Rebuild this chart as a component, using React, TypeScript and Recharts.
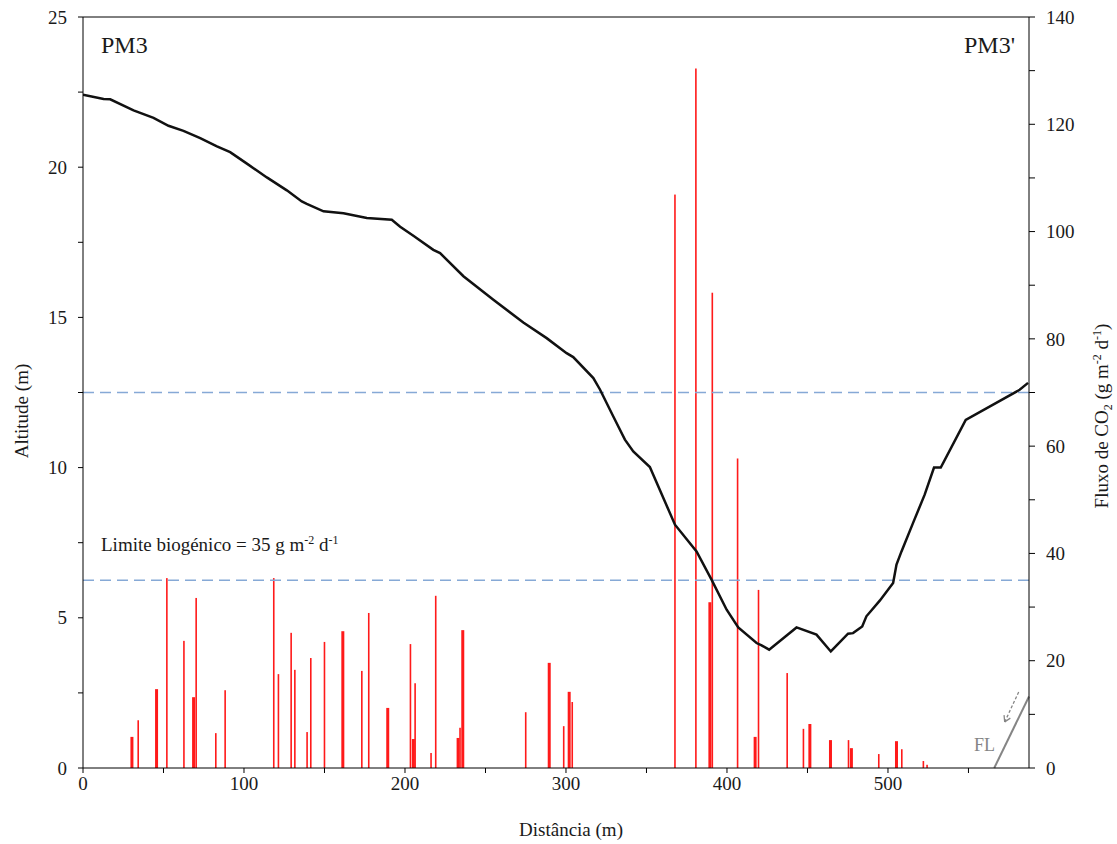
import { ComposedChart, Line, Bar, XAxis, YAxis, ReferenceLine } from "recharts";

// altitude profile PM3 -> PM3'
const altDist = [
  0, 12.8, 16.9, 31.4, 43.8, 53.1, 62.4, 72.8, 83.2, 91.4, 101.8, 114.2, 126.6, 135.9, 139, 149.4,
  161.8, 176.3, 191.8, 197, 205.2, 217.6, 221.8, 236.3, 254.9, 273.5, 288, 300.4, 304.5, 317, 321.1,
  329.4, 336.6, 341.8, 352.1, 367.7, 381.1, 390.4, 399.8, 407, 418.4, 421.5, 426.2, 443.2, 455.6,
  464.5, 475.2, 478.3, 484, 486.6, 494.9, 503.2, 505.3, 508.4, 515.6, 522.8, 528.6, 532.8, 548.3,
  581.8, 587,
];
const altVal = [
  22.41, 22.27, 22.26, 21.89, 21.64, 21.38, 21.21, 20.97, 20.69, 20.5, 20.12, 19.66, 19.23, 18.86,
  18.78, 18.53, 18.47, 18.31, 18.25, 18.02, 17.72, 17.25, 17.14, 16.37, 15.59, 14.83, 14.31, 13.81,
  13.68, 12.98, 12.6, 11.7, 10.93, 10.54, 10.02, 8.1, 7.21, 6.27, 5.27, 4.68, 4.16, 4.08, 3.94, 4.68,
  4.44, 3.88, 4.47, 4.49, 4.71, 5.05, 5.57, 6.16, 6.77, 7.21, 8.16, 9.1, 10.0, 10.0, 11.59, 12.59,
  12.82,
];

// CO2 flux measurements
const fluxDist = [
  30.4, 34.3, 45.7, 52.1, 62.7, 68.7, 70.3, 82.5, 88.3, 118.5, 121.4, 129.3, 131.6, 139.2, 141.5,
  150, 161.4, 173.2, 177.5, 189.3, 203.4, 205.2, 206.3, 216.2, 219.1, 233, 234.2, 235.9, 275, 289.6,
  298.6, 302, 303.9, 367.7, 380.7, 389.4, 390.9, 406.6, 417.5, 419.6, 437.4, 447.5, 451.5, 464.3,
  475.5, 477.3, 494.3, 505.3, 508.6, 522, 524.3,
];
const fluxVal = [
  5.8, 8.9, 14.7, 35.4, 23.7, 13.2, 31.7, 6.5, 14.5, 35.4, 17.5, 25.2, 18.3, 6.7, 20.5, 23.5, 25.5,
  18.1, 28.9, 11.2, 23.1, 5.4, 15.8, 2.8, 32.1, 5.6, 7.5, 25.7, 10.4, 19.6, 7.8, 14.2, 12.3, 106.9,
  130.4, 30.9, 88.6, 57.7, 5.8, 33.2, 17.7, 7.3, 8.2, 5.2, 5.2, 3.7, 2.6, 5.0, 3.5, 1.3, 0.6,
];
const fluxWide = [
  1, 0, 1, 0, 0, 1, 0, 0, 0, 0, 0, 0, 0, 0, 0, 0, 1, 0, 0, 1, 0, 1, 0, 0, 0, 1, 0, 1, 0, 1, 0, 1, 0,
  0, 0, 1, 0, 0, 1, 0, 0, 0, 1, 1, 0, 1, 0, 1, 0, 0, 0,
];

const xTicks = [0, 50, 100, 150, 200, 250, 300, 350, 400, 450, 500, 550];
const altTicks = [0, 2.5, 5, 7.5, 10, 12.5, 15, 17.5, 20, 22.5, 25];
const fluxTicks = [0, 10, 20, 30, 40, 50, 60, 70, 80, 90, 100, 110, 120, 130, 140];
const limitTop = 70;
const limitBio = 35;

type Row = { x: number; alt?: number; flux?: number; wide?: number };
const rows: Row[] = [
  ...altDist.map((x, i) => ({ x, alt: altVal[i] })),
  ...fluxDist.map((x, i) => ({ x, flux: fluxVal[i], wide: fluxWide[i] })),
].sort((a, b) => a.x - b.x);

const FONT = "'Liberation Serif', 'Times New Roman', serif";
const textStyle = { fontFamily: FONT, fontSize: 19, fill: "#1a1a1a" };
const GREY = "#858585";
const DASH = "#86a9d6";

// tick labels only on every other tick (minor ticks stay unlabeled)
function makeTick(step: number, dy: string) {
  return (p: any) => {
    const v = p.payload?.value;
    if (v == null || v % step !== 0) return <g />;
    return (
      <text x={p.x} y={p.y} dy={dy} textAnchor={p.textAnchor} style={textStyle}>
        {v}
      </text>
    );
  };
}

function FluxBar(props: any) {
  const { x, width, y, height, payload } = props;
  if (payload == null || payload.flux == null || !isFinite(y) || !isFinite(height)) return <g />;
  const cx = x + width / 2;
  const w = payload.wide ? 3 : 1.6;
  return <rect x={cx - w / 2} y={y} width={w} height={height} fill="#ff1a1a" />;
}

export default function App() {
  return (
    <div style={{ position: "absolute", left: 0, top: 0, width: 1117, height: 844, background: "#fff" }}>
      <ComposedChart width={1117} height={844} data={rows} margin={{ top: 17, right: 0, bottom: 0, left: 0 }}>
        <XAxis
          dataKey="x"
          type="number"
          domain={[0, 587.6]}
          allowDataOverflow
          ticks={xTicks}
          interval={0}
          tick={makeTick(100, "0.71em")}
          tickSize={5}
          tickMargin={4}
          height={76}
          stroke="#000"
          label={{
            content: () => (
              <text x={571} y={836} textAnchor="middle" style={textStyle}>
                Distância (m)
              </text>
            ),
          }}
        />
        <YAxis
          yAxisId="left"
          domain={[0, 25]}
          ticks={altTicks}
          interval={0}
          tick={makeTick(5, "0.35em")}
          tickSize={5}
          tickMargin={11}
          width={83}
          stroke="#000"
          label={{
            content: () => (
              <text x={28} y={411} textAnchor="middle" transform="rotate(-90 28 411)" style={textStyle}>
                Altitude (m)
              </text>
            ),
          }}
        />
        <YAxis
          yAxisId="right"
          orientation="right"
          domain={[0, 140]}
          ticks={fluxTicks}
          interval={0}
          tick={makeTick(20, "0.35em")}
          tickSize={6}
          tickMargin={11}
          width={88}
          stroke="#000"
          label={{
            content: () => (
              <text x={1108} y={416} textAnchor="middle" transform="rotate(-90 1108 416)" style={textStyle}>
                <tspan>Fluxo de CO</tspan>
                <tspan fontSize={12} dy={4}>2</tspan>
                <tspan dy={-4}> (g m</tspan>
                <tspan fontSize={12} dy={-7}>-2</tspan>
                <tspan dy={7}> d</tspan>
                <tspan fontSize={12} dy={-7}>-1</tspan>
                <tspan dy={7}>)</tspan>
              </text>
            ),
          }}
        />

        <ReferenceLine yAxisId="left" y={25} stroke="#000" strokeWidth={1} />
        <ReferenceLine yAxisId="right" y={limitTop} stroke={DASH} strokeWidth={1.5} strokeDasharray="11 6" />
        <ReferenceLine
          yAxisId="right"
          y={limitBio}
          stroke={DASH}
          strokeWidth={1.5}
          strokeDasharray="11 6"
          label={{
            content: () => (
              <text x={101} y={551} style={textStyle}>
                <tspan>Limite biogénico = 35 g m</tspan>
                <tspan fontSize={12} dy={-7}>-2</tspan>
                <tspan dy={7}> d</tspan>
                <tspan fontSize={12} dy={-7}>-1</tspan>
              </text>
            ),
          }}
        />

        <Bar yAxisId="right" dataKey="flux" barSize={2} shape={FluxBar} isAnimationActive={false} />
        <Line
          yAxisId="left"
          dataKey="alt"
          type="linear"
          stroke="#111"
          strokeWidth={2.5}
          dot={false}
          connectNulls
          isAnimationActive={false}
        />

        {/* FL fault trace and arrow */}
        <ReferenceLine
          yAxisId="left"
          segment={[{ x: 566, y: 0 }, { x: 587.6, y: 2.38 }]}
          stroke={GREY}
          strokeWidth={2}
          ifOverflow="visible"
        />
        <ReferenceLine
          yAxisId="left"
          segment={[{ x: 581.2, y: 2.53 }, { x: 572.5, y: 1.53 }]}
          stroke={GREY}
          strokeWidth={1.3}
          strokeDasharray="3 2"
        />
        <ReferenceLine yAxisId="left" segment={[{ x: 572.5, y: 1.53 }, { x: 576.0, y: 1.66 }]} stroke={GREY} strokeWidth={1.3} />
        <ReferenceLine yAxisId="left" segment={[{ x: 572.5, y: 1.53 }, { x: 572.1, y: 1.76 }]} stroke={GREY} strokeWidth={1.3} />
      </ComposedChart>

      <svg width={1117} height={844} style={{ position: "absolute", left: 0, top: 0, pointerEvents: "none" }}>
        <text x={101} y={53} style={{ ...textStyle, fontSize: 24 }}>
          PM3
        </text>
        <text x={1015} y={53} textAnchor="end" style={{ ...textStyle, fontSize: 24 }}>
          PM3'
        </text>
        <text x={974} y={751} style={{ ...textStyle, fontSize: 18, fill: GREY }}>
          FL
        </text>
      </svg>
    </div>
  );
}
